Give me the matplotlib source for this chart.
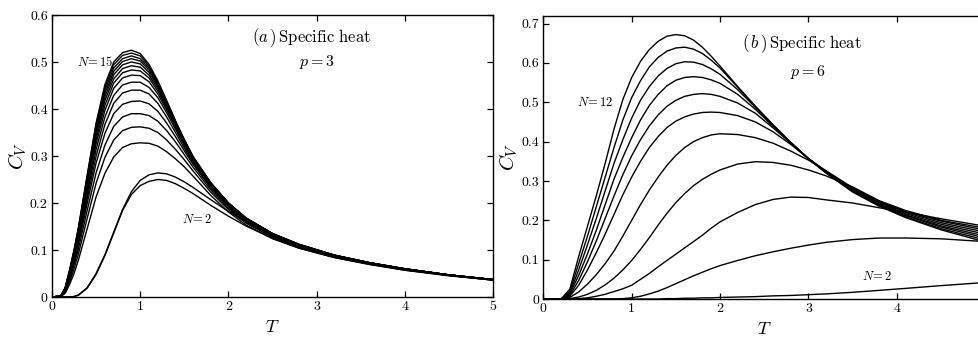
import matplotlib
matplotlib.use("Agg")
import matplotlib.pyplot as plt

plt.rcParams['font.family'] = 'serif'
plt.rcParams['font.serif'] = ['cmr10']
plt.rcParams['mathtext.fontset'] = 'cm'
plt.rcParams['axes.formatter.use_mathtext'] = True

# ---- panel (a): p = 3, curves from the top one (N = 15) down to N = 2
t_p3 = [0.0, 0.1, 0.15, 0.2, 0.25, 0.3, 0.4, 0.5, 0.6, 0.7, 0.8, 0.9, 1.0, 1.1, 1.2,
        1.3, 1.4, 1.5, 1.6, 1.8, 2.0, 2.2, 2.5, 2.8, 3.2, 3.6, 4.0, 4.5, 5.0]
cv_p3 = [
    [0, 0.002, 0.02, 0.058, 0.1, 0.148, 0.26, 0.37, 0.452, 0.5, 0.52, 0.525, 0.518, 0.495, 0.46, 0.418, 0.375, 0.335, 0.299, 0.243, 0.2, 0.168, 0.135, 0.112, 0.089, 0.073, 0.06, 0.047, 0.037],
    [0, 0.002, 0.02, 0.057, 0.099, 0.147, 0.258, 0.366, 0.446, 0.494, 0.514, 0.519, 0.513, 0.491, 0.457, 0.416, 0.374, 0.334, 0.298, 0.243, 0.2, 0.168, 0.135, 0.112, 0.089, 0.073, 0.06, 0.047, 0.037],
    [0, 0.002, 0.019, 0.056, 0.097, 0.145, 0.255, 0.361, 0.44, 0.487, 0.507, 0.513, 0.507, 0.487, 0.454, 0.414, 0.373, 0.333, 0.297, 0.242, 0.2, 0.168, 0.135, 0.112, 0.089, 0.073, 0.06, 0.047, 0.037],
    [0, 0.002, 0.019, 0.055, 0.095, 0.142, 0.251, 0.356, 0.433, 0.48, 0.501, 0.507, 0.502, 0.483, 0.451, 0.412, 0.371, 0.332, 0.296, 0.242, 0.2, 0.167, 0.135, 0.112, 0.089, 0.073, 0.06, 0.047, 0.037],
    [0, 0.002, 0.018, 0.054, 0.093, 0.139, 0.247, 0.35, 0.426, 0.473, 0.494, 0.5, 0.496, 0.478, 0.447, 0.409, 0.369, 0.331, 0.295, 0.241, 0.199, 0.167, 0.134, 0.111, 0.089, 0.073, 0.06, 0.047, 0.037],
    [0, 0.002, 0.018, 0.053, 0.091, 0.136, 0.242, 0.343, 0.418, 0.464, 0.486, 0.492, 0.489, 0.472, 0.443, 0.406, 0.367, 0.329, 0.294, 0.24, 0.198, 0.166, 0.134, 0.111, 0.089, 0.072, 0.06, 0.047, 0.037],
    [0, 0.002, 0.017, 0.052, 0.089, 0.133, 0.236, 0.335, 0.408, 0.455, 0.477, 0.483, 0.481, 0.466, 0.438, 0.402, 0.364, 0.327, 0.293, 0.239, 0.197, 0.165, 0.133, 0.11, 0.088, 0.072, 0.06, 0.047, 0.037],
    [0, 0.002, 0.017, 0.05, 0.086, 0.129, 0.229, 0.326, 0.397, 0.444, 0.466, 0.472, 0.471, 0.458, 0.432, 0.398, 0.361, 0.325, 0.291, 0.238, 0.196, 0.165, 0.133, 0.11, 0.088, 0.072, 0.059, 0.047, 0.037],
    [0, 0.002, 0.016, 0.048, 0.083, 0.124, 0.22, 0.314, 0.383, 0.429, 0.451, 0.457, 0.457, 0.446, 0.424, 0.392, 0.357, 0.322, 0.289, 0.237, 0.195, 0.164, 0.132, 0.11, 0.088, 0.072, 0.059, 0.047, 0.037],
    [0, 0.002, 0.015, 0.046, 0.079, 0.118, 0.21, 0.3, 0.367, 0.412, 0.434, 0.44, 0.44, 0.432, 0.412, 0.383, 0.35, 0.317, 0.285, 0.235, 0.194, 0.163, 0.131, 0.109, 0.088, 0.072, 0.059, 0.047, 0.037],
    [0, 0.001, 0.014, 0.043, 0.075, 0.112, 0.2, 0.285, 0.348, 0.39, 0.41, 0.416, 0.417, 0.411, 0.395, 0.37, 0.341, 0.311, 0.282, 0.232, 0.192, 0.161, 0.13, 0.108, 0.087, 0.071, 0.059, 0.046, 0.037],
    [0, 0.001, 0.012, 0.038, 0.068, 0.103, 0.185, 0.264, 0.323, 0.363, 0.383, 0.39, 0.39, 0.386, 0.374, 0.354, 0.33, 0.303, 0.276, 0.228, 0.189, 0.159, 0.128, 0.107, 0.086, 0.071, 0.058, 0.046, 0.036],
    [0, 0.001, 0.01, 0.033, 0.06, 0.092, 0.168, 0.242, 0.297, 0.334, 0.354, 0.361, 0.362, 0.359, 0.35, 0.334, 0.314, 0.292, 0.268, 0.223, 0.186, 0.157, 0.127, 0.106, 0.085, 0.07, 0.058, 0.046, 0.036],
    [0, 0.001, 0.008, 0.027, 0.05, 0.079, 0.146, 0.213, 0.263, 0.298, 0.318, 0.326, 0.328, 0.327, 0.321, 0.309, 0.294, 0.277, 0.257, 0.216, 0.181, 0.153, 0.124, 0.104, 0.084, 0.069, 0.057, 0.045, 0.036],
    [0, 0, 0, 0, 0.001, 0.004, 0.02, 0.05, 0.09, 0.138, 0.186, 0.224, 0.248, 0.26, 0.264, 0.262, 0.255, 0.245, 0.233, 0.207, 0.182, 0.16, 0.132, 0.11, 0.088, 0.072, 0.059, 0.047, 0.037],
    [0, 0, 0, 0, 0.001, 0.004, 0.019, 0.048, 0.088, 0.136, 0.184, 0.218, 0.237, 0.246, 0.25, 0.248, 0.241, 0.231, 0.22, 0.195, 0.172, 0.151, 0.125, 0.104, 0.084, 0.07, 0.057, 0.046, 0.036],
]

# ---- panel (b): p = 6, curves from N = 12 (top) down to N = 2
t_p6 = [0.0, 0.2, 0.3, 0.4, 0.5, 0.6, 0.7, 0.8, 0.9, 1.0, 1.1, 1.2, 1.3, 1.4, 1.5, 1.6,
        1.7, 1.8, 1.9, 2.0, 2.2, 2.4, 2.6, 2.8, 3.0, 3.2, 3.5, 3.8, 4.1, 4.5, 5.0]
cv_p6 = [
    [0, 0, 0.025, 0.108, 0.185, 0.263, 0.345, 0.432, 0.507, 0.563, 0.604, 0.634, 0.655, 0.668, 0.672, 0.669, 0.658, 0.64, 0.617, 0.592, 0.54, 0.49, 0.443, 0.398, 0.356, 0.32, 0.272, 0.236, 0.207, 0.176, 0.145],
    [0, 0, 0.02, 0.09, 0.16, 0.235, 0.31, 0.385, 0.455, 0.512, 0.555, 0.59, 0.614, 0.63, 0.638, 0.64, 0.635, 0.624, 0.607, 0.587, 0.538, 0.489, 0.442, 0.398, 0.357, 0.321, 0.274, 0.238, 0.209, 0.179, 0.15],
    [0, 0, 0.016, 0.074, 0.138, 0.205, 0.275, 0.345, 0.405, 0.46, 0.505, 0.54, 0.567, 0.586, 0.598, 0.603, 0.602, 0.596, 0.585, 0.571, 0.532, 0.487, 0.441, 0.398, 0.357, 0.322, 0.276, 0.24, 0.212, 0.183, 0.155],
    [0, 0, 0.013, 0.06, 0.115, 0.175, 0.24, 0.305, 0.36, 0.41, 0.455, 0.492, 0.52, 0.542, 0.556, 0.563, 0.565, 0.563, 0.557, 0.548, 0.52, 0.482, 0.439, 0.397, 0.357, 0.323, 0.278, 0.242, 0.214, 0.186, 0.16],
    [0, 0, 0.01, 0.047, 0.095, 0.148, 0.205, 0.262, 0.316, 0.364, 0.405, 0.44, 0.468, 0.49, 0.505, 0.515, 0.52, 0.522, 0.52, 0.515, 0.498, 0.472, 0.435, 0.396, 0.357, 0.324, 0.279, 0.244, 0.217, 0.19, 0.165],
    [0, 0, 0.007, 0.035, 0.074, 0.118, 0.165, 0.215, 0.265, 0.31, 0.35, 0.385, 0.413, 0.436, 0.452, 0.463, 0.47, 0.474, 0.475, 0.474, 0.466, 0.45, 0.425, 0.393, 0.357, 0.325, 0.281, 0.246, 0.22, 0.194, 0.17],
    [0, 0, 0.004, 0.018, 0.038, 0.062, 0.09, 0.122, 0.16, 0.2, 0.24, 0.277, 0.31, 0.34, 0.365, 0.385, 0.4, 0.41, 0.417, 0.42, 0.418, 0.41, 0.396, 0.376, 0.353, 0.326, 0.283, 0.248, 0.222, 0.198, 0.175],
    [0, 0, 0.001, 0.005, 0.012, 0.022, 0.036, 0.053, 0.074, 0.098, 0.126, 0.156, 0.188, 0.218, 0.245, 0.268, 0.288, 0.304, 0.317, 0.328, 0.343, 0.349, 0.347, 0.34, 0.328, 0.313, 0.285, 0.25, 0.225, 0.2, 0.18],
    [0, 0, 0, 0.001, 0.003, 0.007, 0.012, 0.019, 0.026, 0.035, 0.05, 0.065, 0.082, 0.098, 0.114, 0.13, 0.146, 0.162, 0.18, 0.196, 0.22, 0.24, 0.253, 0.259, 0.258, 0.252, 0.244, 0.232, 0.221, 0.204, 0.185],
    [0, 0, 0, 0, 0, 0, 0, 0, 0.001, 0.003, 0.007, 0.013, 0.02, 0.029, 0.039, 0.049, 0.059, 0.068, 0.077, 0.085, 0.098, 0.11, 0.12, 0.129, 0.137, 0.144, 0.151, 0.155, 0.155, 0.153, 0.146],
    [0, 0, 0, 0, 0, 0, 0, 0, 0, 0, 0, 0, 0, 0.001, 0.001, 0.002, 0.002, 0.003, 0.003, 0.004, 0.005, 0.006, 0.008, 0.009, 0.011, 0.013, 0.017, 0.022, 0.027, 0.034, 0.042],
]

x_ticks = [0, 1, 2, 3, 4, 5]
y_ticks_p3 = [0, 0.1, 0.2, 0.3, 0.4, 0.5, 0.6]
y_ticks_p6 = [0, 0.1, 0.2, 0.3, 0.4, 0.5, 0.6, 0.7]

fig = plt.figure(figsize=(9.79, 3.42), dpi=100)
ax1 = fig.add_axes([0.0531, 0.1316, 0.4505, 0.8246])
# the right panel runs past the page edge, as in the scan
ax2 = fig.add_axes([0.555, 0.1257, 0.4512, 0.8284])


def style_axes(ax, yticks, ymax, xlabels):
    ax.set_xlim(0, 5)
    ax.set_ylim(0, ymax)
    ax.set_xticks(x_ticks)
    ax.set_xticklabels(xlabels)
    ax.set_yticks(yticks)
    ax.set_yticklabels(['0'] + ['%.1f' % v for v in yticks[1:]])
    ax.tick_params(direction='in', top=True, right=True, length=4, width=0.9,
                   labelsize=10, pad=3, colors='black')
    for s in ax.spines.values():
        s.set_linewidth(1.0)
    ax.set_xlabel(r'$T$', fontsize=13, labelpad=4)
    ax.set_ylabel(r'$C_V$', fontsize=15, labelpad=1)


for row in cv_p3:
    ax1.plot(t_p3, row, color='black', lw=1.0)
for row in cv_p6:
    ax2.plot(t_p6, row, color='black', lw=1.0)

style_axes(ax1, y_ticks_p3, 0.6, [str(v) for v in x_ticks])
style_axes(ax2, y_ticks_p6, 0.72, [str(v) for v in x_ticks[:-1]] + [''])

ax1.text(2.94, 0.551, r'$(a\,)\,\mathrm{Specific\ heat}$', fontsize=12, ha='center', va='center')
ax1.text(3.0, 0.5, r'$p=3$', fontsize=11.5, ha='center', va='center')
ax1.text(0.49, 0.5, r'$N\!=15$', fontsize=9, ha='center', va='center')
ax1.text(1.64, 0.165, r'$N\!=2$', fontsize=9, ha='center', va='center')

ax2.text(2.93, 0.648, r'$(\,b\,)\,\mathrm{Specific\ heat}$', fontsize=12, ha='center', va='center')
ax2.text(3.0, 0.577, r'$p=6$', fontsize=11.5, ha='center', va='center')
ax2.text(0.585, 0.5, r'$N\!=12$', fontsize=9, ha='center', va='center')
ax2.text(3.78, 0.056, r'$N\!=2$', fontsize=9, ha='center', va='center')

fig.savefig('out.png', dpi=100)
